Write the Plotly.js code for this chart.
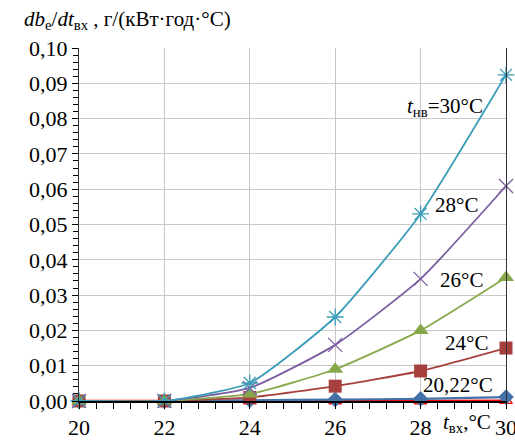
<!DOCTYPE html>
<html><head><meta charset="utf-8">
<script src="https://cdn.plot.ly/plotly-3.0.1.min.js"></script>
<style>body{margin:0;background:#fff}#chart{width:515px;height:441px}</style>
</head><body><div id="chart"></div>
<script>
const xVals = [20, 22, 24, 26, 28, 30];
const s30 = [0, 0, 0.0051, 0.0238, 0.0530, 0.0924];
const s28 = [0, 0, 0.0037, 0.0159, 0.0346, 0.0609];
const s26 = [0, 0, 0.0020, 0.0090, 0.0200, 0.0350];
const s24 = [0, 0, 0.0010, 0.0042, 0.0085, 0.0150];
const s22 = [0, 0, 0.0002, 0.0004, 0.0006, 0.0011];
const s20 = [0, 0, 0, 0, 0, 0.0001];
const labels = ["<i>t</i><sub>нв</sub>=30°C", "28°C", "26°C", "24°C", "20,22°C"];

const F = 'Times New Roman';
function tr(y, color, symbol, size, lw, open) {
  return {x: xVals, y: y, type: 'scatter', mode: 'lines+markers', cliponaxis: false,
    line: {color: color, width: lw, shape: 'spline', smoothing: 0.5},
    marker: {symbol: symbol, size: size, color: color, line: {color: color, width: open ? 1.3 : 0}},
    hoverinfo: 'skip', showlegend: false};
}
const data = [
  tr(s20, '#FF0000', 'triangle-up-open', 11, 2.5, true),
  tr(s22, '#4472A8', 'diamond', 12, 2.2, false),
  tr(s24, '#A5403D', 'square', 13, 1.8, false),
  tr(s26, '#86A84A', 'triangle-up', 14, 1.8, false),
  tr(s28, '#7B5EA0', 'x-thin-open', 14, 1.8, true),
  tr(s30, '#3C9DB8', 'asterisk-open', 14, 1.8, true)
];
const ann = (x, y, text) => ({xref: 'x', yref: 'y', x: x, y: y, xanchor: 'right', yanchor: 'middle', showarrow: false, text: text, font: {family: F, size: 21}});
const layout = {
  width: 515, height: 441,
  margin: {l: 79, r: 9, t: 48, b: 40},
  paper_bgcolor: '#fff', plot_bgcolor: '#fff',
  separators: ', ',
  font: {family: F, size: 22, color: '#000'},
  xaxis: {range: [20, 30], tickvals: [20, 22, 24, 26, 28, 30], ticktext: ['20','22','24','26','28','30'],
    ticklabeloverflow: 'allow', tickfont: {family: F, size: 22},
    showgrid: true, gridcolor: '#c8c8c8', gridwidth: 1, zeroline: false,
    showline: true, linecolor: '#000', linewidth: 1.5,
    ticks: 'outside', ticklen: 6, tickcolor: '#000',
    minor: {dtick: 0.4, tick0: 20, ticks: 'outside', ticklen: 6, tickcolor: '#000', showgrid: false}},
  yaxis: {range: [0, 0.1], dtick: 0.01, tickformat: '.2f', tickfont: {family: F, size: 22},
    showgrid: true, gridcolor: '#c8c8c8', gridwidth: 1, zeroline: false,
    showline: true, linecolor: '#333', linewidth: 1, mirror: true,
    ticks: 'outside', ticklen: 6, tickcolor: '#000',
    minor: {dtick: 0.002, ticks: 'outside', ticklen: 5, tickcolor: '#000', showgrid: false}},
  annotations: [
    {xref: 'paper', yref: 'paper', x: -0.1335, y: 1.079, xanchor: 'left', yanchor: 'middle', showarrow: false,
     text: "<i>db</i><sub>e</sub>/<i>dt</i><sub>вх</sub> , г/(кВт·год·°C)", font: {family: F, size: 21}},
    ann(29.51, 0.0833, labels[0]),
    ann(29.39, 0.0555, labels[1]),
    ann(29.51, 0.0343, labels[2]),
    ann(29.63, 0.0164, labels[3]),
    ann(29.74, 0.0045, labels[4]),
    {xref: 'x', yref: 'paper', x: 29.7, y: -0.062, xanchor: 'right', yanchor: 'middle', showarrow: false,
     text: "<i>t</i><sub>вх</sub>,°C", font: {family: F, size: 21}}
  ]
};
Plotly.newPlot('chart', data, layout, {displayModeBar: false, staticPlot: true});
</script></body></html>
